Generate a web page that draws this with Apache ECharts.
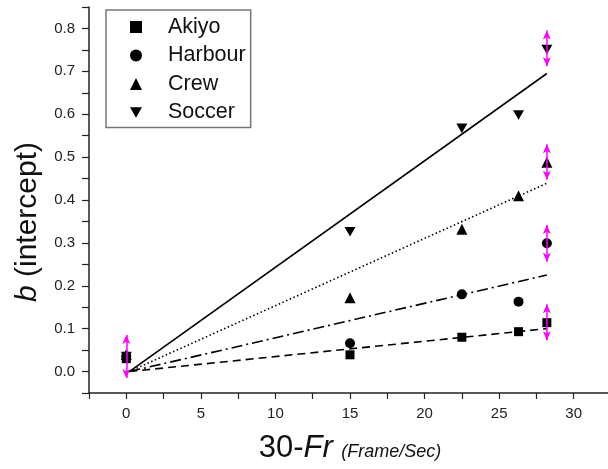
<!DOCTYPE html>
<html>
<head>
<meta charset="utf-8">
<script src="https://cdn.jsdelivr.net/npm/echarts@6/dist/echarts.min.js"></script>
<style>
  html, body { margin: 0; padding: 0; background: #fff; }
  #chart { width: 608px; height: 469px; }
</style>
</head>
<body>
<div id="chart"></div>
<script>
// sequences and the x positions (30 - frame rate)
const seriesNames = ['Akiyo', 'Harbour', 'Crew', 'Soccer']
const xValues = [0, 15, 22.5, 26.3, 28.2]

// measured intercepts b per sequence
const akiyo = [0.030, 0.039, 0.080, 0.093, 0.114]
const harbour = [0.035, 0.066, 0.180, 0.163, 0.299]
const crew = [0.040, 0.172, 0.332, 0.410, 0.488]
const soccer = [0.035, 0.326, 0.567, 0.598, 0.751]

// fitted lines: start point and end value at x = 28.2
const fitX = [0.2, 28.2]
const fitStart = [0, 0, 0, 0]
const fitEnd = [0.100, 0.225, 0.439, 0.695]

// magenta double arrows (x, low, high)
const arrowX = [0, 28.2, 28.2, 28.2, 28.2]
const arrowLo = [-0.015, 0.073, 0.256, 0.447, 0.712]
const arrowHi = [0.085, 0.157, 0.342, 0.530, 0.795]

const values = [akiyo, harbour, crew, soccer]
// down triangle as a path so the legend icon points down too
const symbols = ['rect', 'circle', 'triangle', 'path://M0,0L2,0L1,1.732Z']
const symbolSizes = [9, 10, 11, 11]
const dashes = [[8, 5], [11, 4, 2, 4], [1.5, 2.5], 'solid']

const font = 'Liberation Sans, Arial, sans-serif'
const chart = echarts.init(document.getElementById('chart'))

const series = []

// arrows drawn first so the markers sit on top
series.push({
  type: 'line',
  data: [],
  silent: true,
  z: 1,
  markLine: {
    silent: true,
    animation: false,
    symbol: ['arrow', 'arrow'],
    symbolSize: [6, 9],
    label: { show: false },
    lineStyle: { color: '#ff00ff', width: 1.5, type: 'solid' },
    emphasis: { disabled: true },
    data: arrowX.map((x, i) => [{ coord: [x, arrowLo[i]] }, { coord: [x, arrowHi[i]] }])
  }
})

seriesNames.forEach((name, i) => {
  series.push({
    name: name + ' fit',
    type: 'line',
    z: 2,
    silent: true,
    showSymbol: false,
    symbol: 'none',
    lineStyle: { color: '#000', width: 1.6, type: dashes[i] },
    data: [[fitX[0], fitStart[i]], [fitX[1], fitEnd[i]]]
  })
})

seriesNames.forEach((name, i) => {
  series.push({
    name: name,
    type: 'scatter',
    z: 3,
    symbol: symbols[i],
    symbolKeepAspect: true,
    symbolSize: symbolSizes[i],
    itemStyle: { color: '#000', opacity: 1 },
    data: xValues.map((x, k) => [x, values[i][k]])
  })
})

chart.setOption({
  animation: false,
  backgroundColor: '#fff',
  textStyle: { fontFamily: font },
  grid: { left: 89, top: 7, right: -3, bottom: 76, outerBoundsMode: 'none' },
  legend: {
    data: seriesNames,
    orient: 'vertical',
    left: 106,
    top: 10,
    padding: [6, 5, 4, 24],
    itemGap: 6.5,
    itemWidth: 12,
    itemHeight: 12,
    borderColor: '#777',
    borderWidth: 1.5,
    borderRadius: 0,
    selectedMode: false,
    textStyle: {
      fontFamily: font,
      fontSize: 21.5,
      color: '#111',
      lineHeight: 21,
      padding: [0, 0, 0, 21]
    }
  },
  xAxis: {
    type: 'value',
    min: -2.5,
    max: 32.5,
    interval: 2.5,
    name: '30-{i|Fr} {s|(Frame/Sec)}',
    nameLocation: 'middle',
    nameGap: 40,
    nameTextStyle: {
      fontFamily: font,
      fontSize: 31,
      color: '#111',
      rich: {
        i: { fontFamily: font, fontSize: 31, fontStyle: 'italic', color: '#111' },
        s: { fontFamily: font, fontSize: 18, fontStyle: 'italic', color: '#111', verticalAlign: 'bottom', padding: [0, 0, 3, 0] }
      }
    },
    axisLine: { onZero: false, lineStyle: { color: '#222', width: 1.5 } },
    axisTick: { inside: false, length: 6, lineStyle: { color: '#222', width: 1.2 } },
    splitLine: { show: false },
    axisLabel: {
      margin: 13,
      fontFamily: font,
      fontSize: 15,
      color: '#222',
      showMinLabel: true,
      showMaxLabel: true,
      formatter: v => (Math.abs(v % 5) < 1e-9 && v >= 0 && v <= 30 ? String(v) : '')
    }
  },
  yAxis: {
    type: 'value',
    min: -0.05,
    max: 0.85,
    interval: 0.05,
    name: '{i|b} (intercept)',
    nameLocation: 'middle',
    nameGap: 46,
    nameTextStyle: {
      fontFamily: font,
      fontSize: 30,
      color: '#111',
      padding: [0, 44, 0, 0],
      rich: {
        i: { fontFamily: font, fontSize: 30, fontStyle: 'italic', color: '#111' }
      }
    },
    axisLine: { show: true, onZero: false, lineStyle: { color: '#222', width: 1.5 } },
    axisTick: { show: true, inside: false, length: 7, lineStyle: { color: '#222', width: 1.2 } },
    splitLine: { show: false },
    axisLabel: {
      margin: 14,
      fontFamily: font,
      fontSize: 15,
      color: '#222',
      showMinLabel: true,
      showMaxLabel: true,
      formatter: v => {
        const h = Math.round(v * 100)
        if (h < 0 || h % 10 !== 0) return ''
        return (h / 100).toFixed(1)
      }
    }
  },
  series: series
})
</script>
</body>
</html>
